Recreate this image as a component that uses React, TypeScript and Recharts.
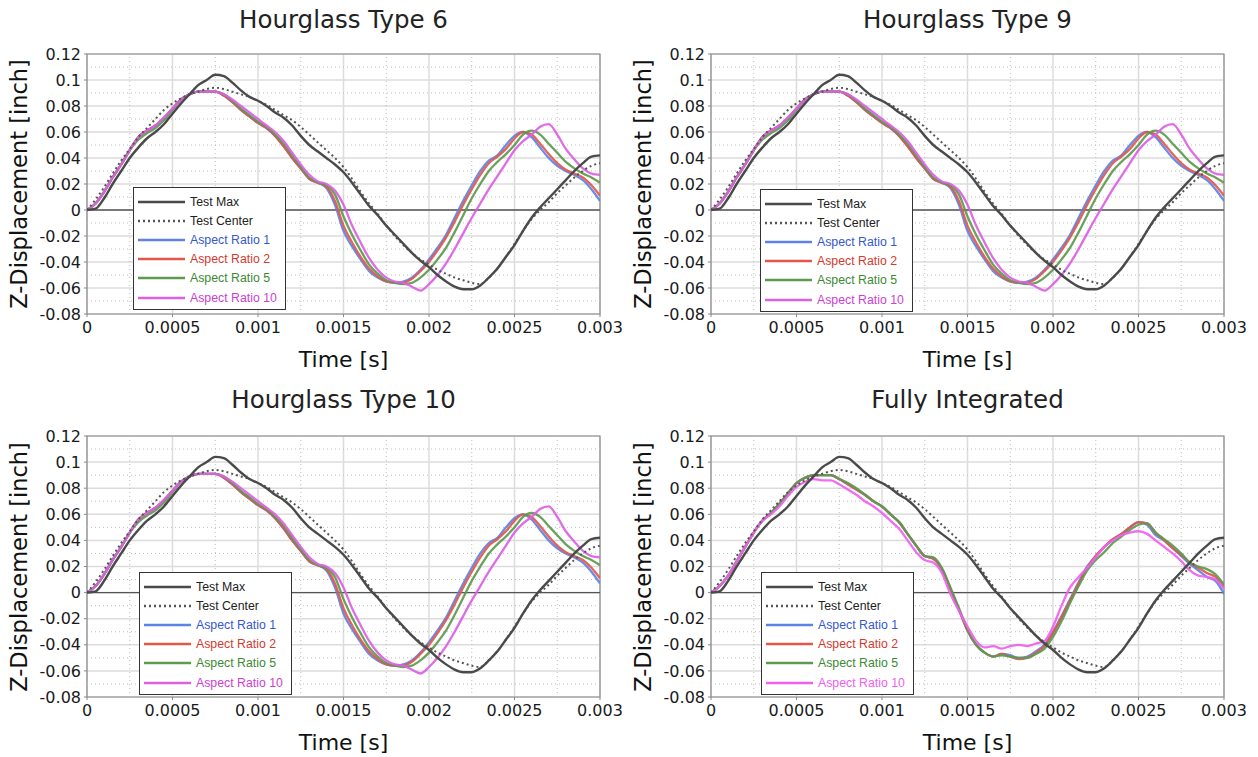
import React from "react";
import {
  LineChart,
  Line,
  XAxis,
  YAxis,
  CartesianGrid,
  ReferenceLine,
  ReferenceArea,
} from "recharts";

// sample spacing of every series below, in seconds
const TIME_STEP = 0.00005;

// measured curves, shared by all four panels
const TEST_MAX = [
  0, 0.001, 0.009, 0.02, 0.03, 0.04, 0.048, 0.055, 0.06, 0.066, 0.074, 0.082,
  0.089, 0.096, 0.1, 0.104, 0.103, 0.098, 0.092, 0.087, 0.084, 0.08, 0.075,
  0.071, 0.065, 0.057, 0.05, 0.045, 0.04, 0.035, 0.029, 0.021, 0.012, 0.003,
  -0.004, -0.012, -0.019, -0.026, -0.033, -0.039, -0.044, -0.05, -0.055,
  -0.059, -0.061, -0.061, -0.058, -0.052, -0.045, -0.036, -0.027, -0.016,
  -0.006, 0.002, 0.009, 0.016, 0.023, 0.03, 0.036, 0.041, 0.042,
];
const TEST_CENTER = [
  0, 0.008, 0.0175, 0.028, 0.038, 0.047, 0.056, 0.063, 0.07, 0.077, 0.082,
  0.086, 0.089, 0.091, 0.093, 0.094, 0.093, 0.091, 0.089, 0.087, 0.084, 0.081,
  0.077, 0.073, 0.069, 0.064, 0.058, 0.052, 0.046, 0.04, 0.033, 0.024, 0.014,
  0.005, -0.003, -0.012, -0.02, -0.027, -0.033, -0.038, -0.042, -0.046, -0.049,
  -0.052, -0.054, -0.056, -0.057, -0.052, -0.045, -0.036, -0.026, -0.016,
  -0.007, 0, 0.006, 0.013, 0.019, 0.025, 0.03, 0.034, 0.036,
];

// hourglass control runs (types 6, 9 and 10 give the same response)
const HG_AR1 = [
  0, 0.005, 0.014, 0.025, 0.035, 0.046, 0.056, 0.061, 0.065, 0.071, 0.078,
  0.085, 0.089, 0.091, 0.091, 0.091, 0.088, 0.083, 0.077, 0.072, 0.067, 0.063,
  0.057, 0.049, 0.04, 0.032, 0.024, 0.021, 0.017, 0.004, -0.016, -0.028,
  -0.038, -0.047, -0.052, -0.055, -0.056, -0.055, -0.052, -0.046, -0.038,
  -0.029, -0.019, -0.006, 0.007, 0.019, 0.03, 0.038, 0.042, 0.05, 0.057, 0.06,
  0.056, 0.048, 0.04, 0.034, 0.03, 0.027, 0.023, 0.016, 0.007,
];
const HG_AR2 = [
  0, 0.005, 0.014, 0.025, 0.035, 0.046, 0.056, 0.061, 0.065, 0.071, 0.078,
  0.085, 0.089, 0.091, 0.091, 0.091, 0.088, 0.083, 0.077, 0.072, 0.067, 0.063,
  0.057, 0.049, 0.04, 0.032, 0.024, 0.021, 0.018, 0.007, -0.012, -0.025,
  -0.036, -0.045, -0.051, -0.055, -0.056, -0.056, -0.053, -0.047, -0.04,
  -0.031, -0.021, -0.009, 0.004, 0.016, 0.027, 0.036, 0.041, 0.047, 0.055,
  0.06, 0.058, 0.051, 0.043, 0.036, 0.031, 0.028, 0.025, 0.019, 0.011,
];
const HG_AR5 = [
  0, 0.005, 0.014, 0.025, 0.035, 0.046, 0.054, 0.059, 0.063, 0.069, 0.077,
  0.085, 0.089, 0.091, 0.091, 0.091, 0.089, 0.084, 0.078, 0.073, 0.068, 0.064,
  0.058, 0.051, 0.042, 0.033, 0.025, 0.021, 0.019, 0.012, -0.005, -0.019,
  -0.031, -0.042, -0.049, -0.054, -0.056, -0.057, -0.056, -0.052, -0.046,
  -0.038, -0.029, -0.017, -0.004, 0.009, 0.02, 0.03, 0.037, 0.043, 0.05,
  0.058, 0.061, 0.058, 0.051, 0.044, 0.037, 0.032, 0.028, 0.025, 0.021,
];
const HG_AR10 = [
  0, 0.005, 0.014, 0.025, 0.035, 0.046, 0.056, 0.061, 0.065, 0.071, 0.078,
  0.085, 0.089, 0.091, 0.091, 0.091, 0.089, 0.085, 0.08, 0.075, 0.07, 0.065,
  0.06, 0.053, 0.044, 0.035, 0.027, 0.022, 0.02, 0.015, 0.004, -0.012, -0.025,
  -0.037, -0.046, -0.052, -0.055, -0.056, -0.059, -0.062, -0.057, -0.05,
  -0.041, -0.03, -0.018, -0.006, 0.005, 0.016, 0.026, 0.036, 0.046, 0.053,
  0.058, 0.064, 0.066, 0.058, 0.047, 0.039, 0.032, 0.028, 0.027,
];

// fully integrated elements
const FI_AR1 = [
  0, 0.005, 0.013, 0.024, 0.035, 0.046, 0.055, 0.061, 0.068, 0.076, 0.084,
  0.088, 0.09, 0.09, 0.09, 0.087, 0.083, 0.079, 0.075, 0.07, 0.066, 0.06,
  0.054, 0.045, 0.036, 0.028, 0.026, 0.018, 0.003, -0.013, -0.029, -0.04,
  -0.046, -0.049, -0.047, -0.048, -0.05, -0.049, -0.045, -0.04, -0.03, -0.018,
  -0.005, 0.008, 0.02, 0.028, 0.035, 0.041, 0.045, 0.05, 0.054, 0.052, 0.044,
  0.04, 0.034, 0.028, 0.022, 0.017, 0.012, 0.009, -0.001,
];
const FI_AR2 = [
  0, 0.005, 0.013, 0.024, 0.035, 0.046, 0.055, 0.061, 0.068, 0.076, 0.084,
  0.088, 0.09, 0.09, 0.09, 0.087, 0.083, 0.079, 0.075, 0.07, 0.066, 0.06,
  0.054, 0.045, 0.036, 0.028, 0.026, 0.018, 0.003, -0.013, -0.029, -0.04,
  -0.046, -0.049, -0.047, -0.049, -0.051, -0.05, -0.046, -0.041, -0.031,
  -0.019, -0.006, 0.007, 0.019, 0.028, 0.035, 0.041, 0.045, 0.05, 0.054,
  0.053, 0.046, 0.04, 0.034, 0.029, 0.023, 0.019, 0.015, 0.012, 0.004,
];
const FI_AR5 = [
  0, 0.005, 0.013, 0.024, 0.035, 0.046, 0.055, 0.061, 0.068, 0.076, 0.084,
  0.088, 0.09, 0.09, 0.09, 0.087, 0.084, 0.08, 0.075, 0.07, 0.066, 0.06,
  0.054, 0.045, 0.036, 0.028, 0.027, 0.019, 0.004, -0.012, -0.028, -0.04,
  -0.046, -0.049, -0.048, -0.049, -0.05, -0.05, -0.047, -0.043, -0.034,
  -0.022, -0.008, 0.005, 0.017, 0.025, 0.031, 0.038, 0.043, 0.048, 0.052,
  0.053, 0.046, 0.041, 0.036, 0.03, 0.023, 0.02, 0.018, 0.014, 0.006,
];
const FI_AR10 = [
  0, 0.005, 0.013, 0.024, 0.035, 0.046, 0.055, 0.06, 0.066, 0.074, 0.081,
  0.085, 0.087, 0.086, 0.086, 0.083, 0.079, 0.075, 0.07, 0.066, 0.061, 0.055,
  0.049, 0.04, 0.031, 0.025, 0.023, 0.015, -0.001, -0.014, -0.026, -0.037,
  -0.042, -0.041, -0.043, -0.041, -0.04, -0.041, -0.039, -0.037, -0.026,
  -0.01, 0.004, 0.012, 0.019, 0.027, 0.035, 0.04, 0.044, 0.046, 0.047, 0.045,
  0.04, 0.035, 0.03, 0.024, 0.017, 0.013, 0.012, 0.01, 0.003,
];

const X_TICKS = [0, 0.0005, 0.001, 0.0015, 0.002, 0.0025, 0.003];
const X_MINOR = [0.00025, 0.00075, 0.00125, 0.00175, 0.00225, 0.00275];
const Y_TICKS = [-0.08, -0.06, -0.04, -0.02, 0, 0.02, 0.04, 0.06, 0.08, 0.1, 0.12];
const Y_MINOR = [-0.07, -0.05, -0.03, -0.01, 0.01, 0.03, 0.05, 0.07, 0.09, 0.11];

const SERIES = [
  { key: "ar1", name: "Aspect Ratio 1", color: "#5c82e6", text: "#3558d0" },
  { key: "ar2", name: "Aspect Ratio 2", color: "#e2574c", text: "#d43a2e" },
  { key: "ar5", name: "Aspect Ratio 5", color: "#5c9a4e", text: "#3c8a32" },
  { key: "ar10", name: "Aspect Ratio 10", color: "#dc5fe4", text: "#cc3ed4" },
];

const FONT = "'DejaVu Sans', sans-serif";

type PanelProps = {
  title: string;
  left: number;
  top: number;
  height: number;
  marginTop: number;
  marginBottom: number;
  legendLeft: number;
  legendTop: number;
  curves: number[][];
  pink?: string;
};

function Legend({
  left,
  top,
  pink,
}: {
  left: number;
  top: number;
  pink?: string;
}) {
  const rows = [
    { name: "Test Max", color: "#4a4a4a", text: "#222", dash: undefined },
    { name: "Test Center", color: "#555", text: "#222", dash: "2 3" },
    ...SERIES.map((s) => ({
      name: s.name,
      color: s.key === "ar10" && pink ? pink : s.color,
      text: s.key === "ar10" && pink ? pink : s.text,
      dash: undefined,
    })),
  ];
  return (
    <div
      style={{
        position: "absolute",
        left,
        top,
        width: 153,
        height: 123,
        border: "1px solid #333",
        background: "#fff",
        boxSizing: "border-box",
        paddingTop: 4,
      }}
    >
      {rows.map((r) => (
        <div
          key={r.name}
          style={{ display: "flex", alignItems: "center", height: 19.2 }}
        >
          <svg width={56} height={6} style={{ flex: "none" }}>
            <line
              x1={4}
              x2={51}
              y1={3}
              y2={3}
              stroke={r.color}
              strokeWidth={2.4}
              strokeDasharray={r.dash}
            />
          </svg>
          <span
            style={{
              fontFamily: "'Liberation Sans', sans-serif",
              fontSize: 12.3,
              color: r.text,
              whiteSpace: "nowrap",
            }}
          >
            {r.name}
          </span>
        </div>
      ))}
    </div>
  );
}

function Panel({
  title,
  left,
  top,
  height,
  marginTop,
  marginBottom,
  legendLeft,
  legendTop,
  curves,
  pink,
}: PanelProps) {
  const data = TEST_MAX.map((v, i) => ({
    t: Number((i * TIME_STEP).toFixed(5)),
    tmax: v,
    tcenter: TEST_CENTER[i],
    ar1: curves[0][i],
    ar2: curves[1][i],
    ar5: curves[2][i],
    ar10: curves[3][i],
  }));
  const plotTop = marginTop;
  const plotBottom = height - marginBottom - 30;

  return (
    <div style={{ position: "absolute", left, top, width: 629, height }}>
      <div
        style={{
          position: "absolute",
          left: 87,
          width: 513,
          top: (top === 0 ? 20 : 22) - 15,
          textAlign: "center",
          fontFamily: FONT,
          fontSize: 24.5,
          color: "#222",
          lineHeight: "30px",
        }}
      >
        {title}
      </div>
      <LineChart
        width={629}
        height={height}
        data={data}
        margin={{ top: marginTop, right: 29, bottom: marginBottom, left: 27 }}
      >
        <CartesianGrid stroke="#dcdcdc" strokeWidth={1.5} />
        <XAxis
          dataKey="t"
          type="number"
          domain={[0, 0.003]}
          ticks={X_TICKS}
          tickFormatter={(v: number) => String(v)}
          axisLine={false}
          tickLine={{ stroke: "#888" }}
          tickSize={3}
          tickMargin={5}
          height={30}
          tick={{ fill: "#1a1a1a", fontSize: 16, fontFamily: FONT }}
          allowDataOverflow
        />
        <YAxis
          type="number"
          domain={[-0.08, 0.12]}
          ticks={Y_TICKS}
          tickFormatter={(v: number) => String(v)}
          axisLine={false}
          tickLine={{ stroke: "#888" }}
          tickSize={3}
          tickMargin={3}
          width={60}
          tick={{ fill: "#1a1a1a", fontSize: 16, fontFamily: FONT }}
          allowDataOverflow
        />
        {X_MINOR.map((x) => (
          <ReferenceLine
            key={"x" + x}
            x={x}
            stroke="#bdbdbd"
            strokeDasharray="1 3"
          />
        ))}
        {Y_MINOR.map((y) => (
          <ReferenceLine
            key={"y" + y}
            y={y}
            stroke="#bdbdbd"
            strokeDasharray="1 3"
          />
        ))}
        <ReferenceLine y={0} stroke="#555" strokeWidth={1.3} />
        <ReferenceArea
          x1={0}
          x2={0.003}
          y1={-0.08}
          y2={0.12}
          fill="none"
          fillOpacity={0}
          stroke="#8a8a8a"
          strokeWidth={1.2}
        />
        {SERIES.map((s) => (
          <Line
            key={s.key}
            dataKey={s.key}
            type="monotone"
            stroke={s.key === "ar10" && pink ? pink : s.color}
            strokeWidth={2.3}
            strokeOpacity={0.92}
            dot={false}
            isAnimationActive={false}
          />
        ))}
        <Line
          dataKey="tcenter"
          type="monotone"
          stroke="#555"
          strokeWidth={2}
          strokeDasharray="2 3"
          dot={false}
          isAnimationActive={false}
        />
        <Line
          dataKey="tmax"
          type="monotone"
          stroke="#4a4a4a"
          strokeWidth={2.4}
          dot={false}
          isAnimationActive={false}
        />
      </LineChart>
      <div
        style={{
          position: "absolute",
          left: 87,
          width: 513,
          top: plotBottom + 33,
          textAlign: "center",
          fontFamily: FONT,
          fontSize: 22,
          color: "#111",
          lineHeight: "26px",
        }}
      >
        Time [s]
      </div>
      <div
        style={{
          position: "absolute",
          left: 19,
          top: (plotTop + plotBottom) / 2,
          transform: "translate(-50%, -50%) rotate(-90deg)",
          fontFamily: FONT,
          fontSize: 22.5,
          color: "#111",
          whiteSpace: "nowrap",
          lineHeight: "26px",
        }}
      >
        Z-Displacement [inch]
      </div>
      <Legend left={legendLeft} top={legendTop} pink={pink} />
    </div>
  );
}

export default function App() {
  const hg = [HG_AR1, HG_AR2, HG_AR5, HG_AR10];
  const fi = [FI_AR1, FI_AR2, FI_AR5, FI_AR10];
  return (
    <div
      style={{
        position: "absolute",
        left: 0,
        top: 0,
        width: 1258,
        height: 757,
        background: "#fff",
      }}
    >
      <Panel
        title="Hourglass Type 6"
        left={0}
        top={0}
        height={378}
        marginTop={54}
        marginBottom={34}
        legendLeft={133}
        legendTop={187}
        curves={hg}
      />
      <Panel
        title="Hourglass Type 9"
        left={624}
        top={0}
        height={378}
        marginTop={54}
        marginBottom={34}
        legendLeft={136}
        legendTop={189}
        curves={hg}
      />
      <Panel
        title="Hourglass Type 10"
        left={0}
        top={378}
        height={379}
        marginTop={58}
        marginBottom={30}
        legendLeft={139}
        legendTop={194}
        curves={hg}
      />
      <Panel
        title="Fully Integrated"
        left={624}
        top={378}
        height={379}
        marginTop={58}
        marginBottom={30}
        legendLeft={137}
        legendTop={194}
        curves={fi}
        pink="#f060f0"
      />
    </div>
  );
}
